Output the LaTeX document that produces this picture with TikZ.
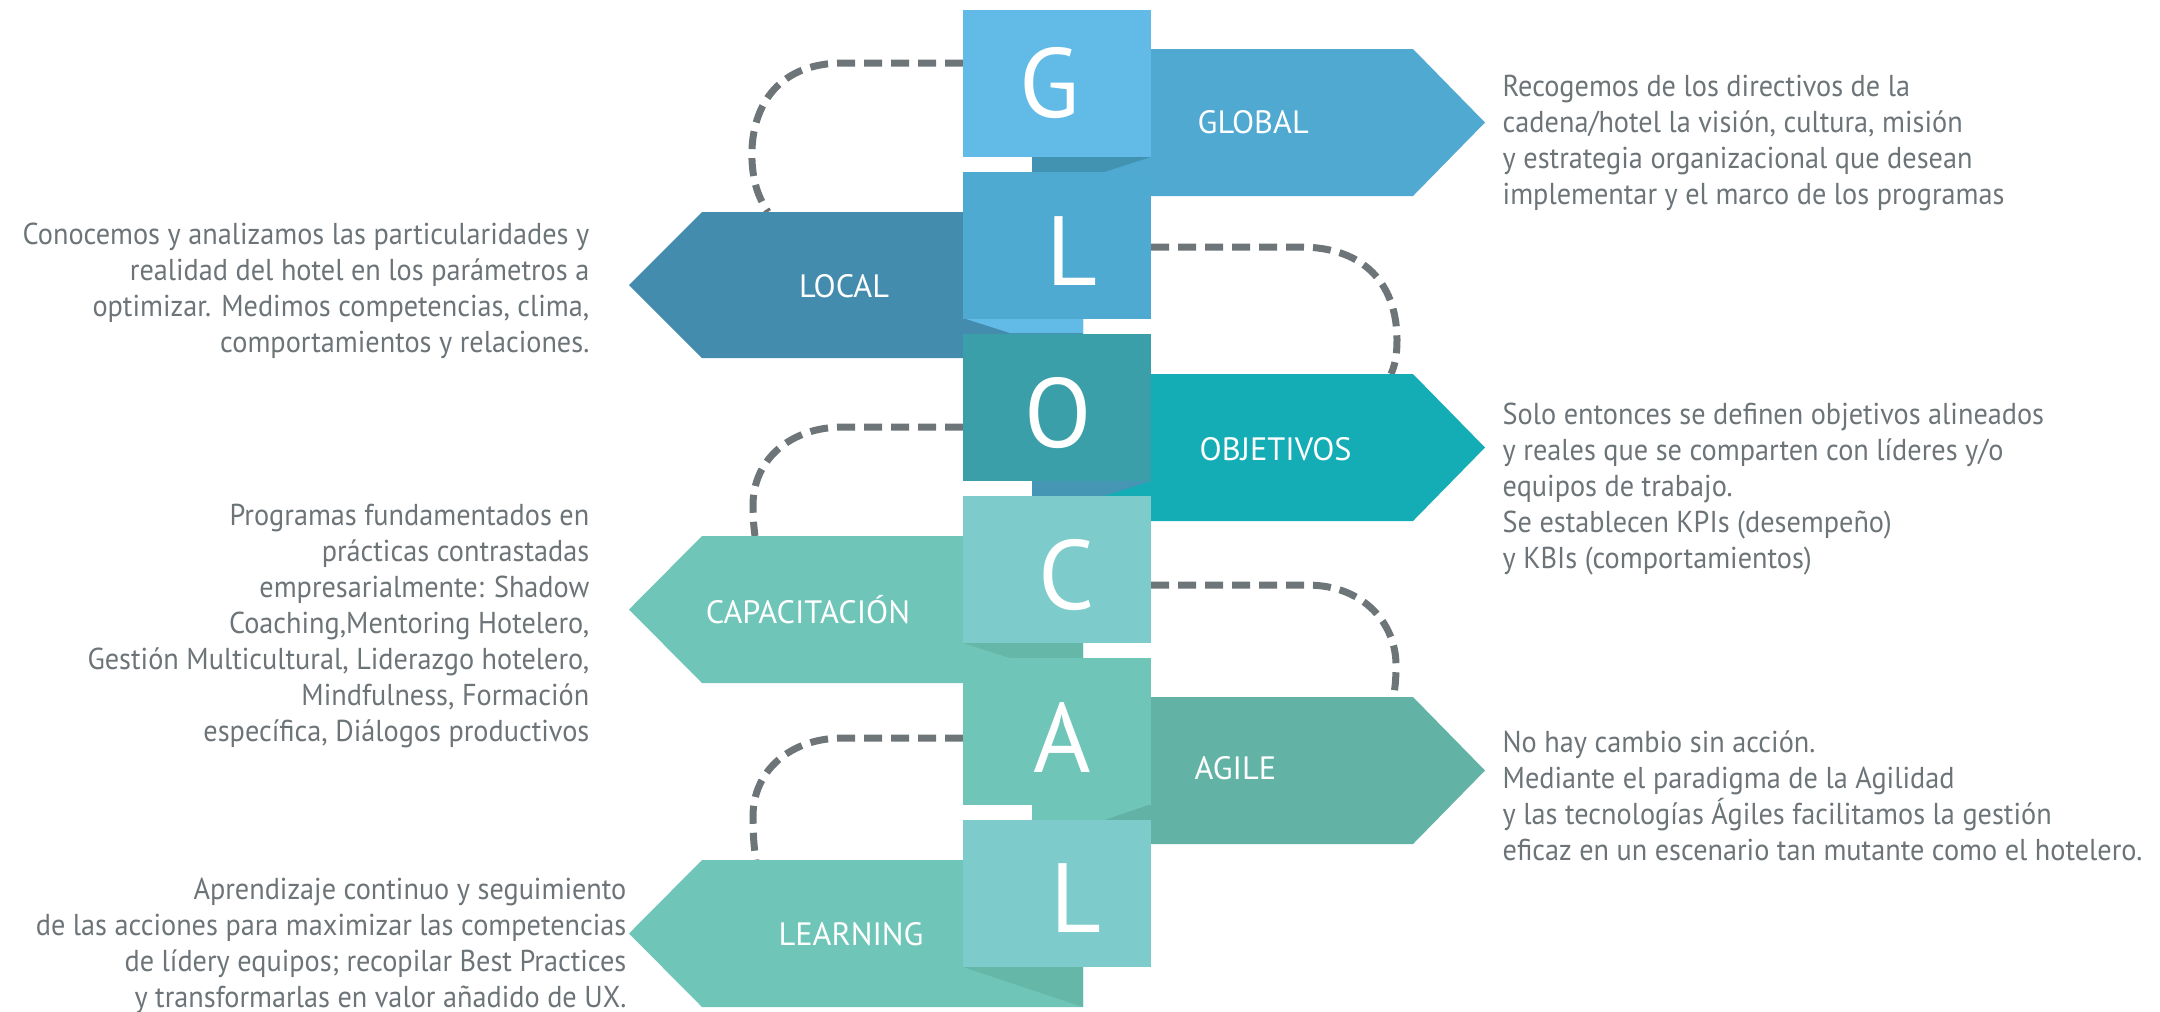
\documentclass[tikz,border=0pt]{standalone}
\usepackage{fontspec}
\setmainfont{PT Sans}
\newfontfamily\descfont{PT Sans}[FakeStretch=0.935]
\usetikzlibrary{calc}

\definecolor{gBox}{HTML}{62BBE6}
\definecolor{gArrow}{HTML}{4FA9D1}
\definecolor{gFold}{HTML}{4293B1}
\definecolor{lBox}{HTML}{4FAAD1}
\definecolor{lArrow}{HTML}{438CAD}
\definecolor{lFold}{HTML}{62BBE6}
\definecolor{oBox}{HTML}{3A9FA9}
\definecolor{oArrow}{HTML}{15ADB5}
\definecolor{oFold}{HTML}{4496B4}
\definecolor{cBox}{HTML}{7DCCCB}
\definecolor{cArrow}{HTML}{6FC6B8}
\definecolor{cFold}{HTML}{65B8A8}
\definecolor{aBox}{HTML}{6FC6B8}
\definecolor{aArrow}{HTML}{62B3A6}
\definecolor{aFold}{HTML}{6FC6B8}
\definecolor{eBox}{HTML}{7DCCCB}
\definecolor{eArrow}{HTML}{6FC6B8}
\definecolor{eFold}{HTML}{65B8A8}
\definecolor{dashgray}{HTML}{6D7578}
\definecolor{txtgray}{HTML}{6D7478}

\begin{document}
\begin{tikzpicture}[x=0.1mm, y=-0.1mm,
        box/.style={minimum width=18.8mm, minimum height=14.7mm, inner sep=0, outer sep=0},
        letter/.style={text=white, inner sep=0, font=\fontsize{28}{28}\selectfont},
        tag/.style={text=white, inner sep=0, font=\fontsize{9.2}{9.2}\selectfont},
        desc/.style={text=txtgray, inner sep=0, font=\descfont\fontsize{8.6}{10.24}\selectfont},
        link/.style={draw=dashgray, line width=0.7mm, dash pattern=on 1.8mm off 0.9mm}]
    \useasboundingbox (0,0) rectangle (2160,1011);

    % where the dashed links end
    \coordinate (localTop) at (768,212);
    \coordinate (objTop) at (1391,374);
    \coordinate (capTop) at (755,536);
    \coordinate (agileTop) at (1393,697);
    \coordinate (learnTop) at (756,860);

    % squares (placed first so the links can start at them)
    \path node [box] (sqG) at (1057,83.5) {}
          node [box] (sqL) at (1057,245.5) {}
          node [box] (sqO) at (1057,407.5) {}
          node [box] (sqC) at (1057,569.5) {}
          node [box] (sqA) at (1057,731.5) {}
          node [box] (sqE) at (1057,893.5) {};

    % dashed links
    \draw [link] ($(sqG.west)+(0,-20.5)$) -- (843,63)
        .. controls (775,63) and (750,110) .. (752,160)
        .. controls (753,185) and (760,200) .. (localTop);
    \draw [link] ($(sqL.east)+(0,1.5)$) -- (1300,247)
        .. controls (1370,247) and (1397,290) .. (1397,340)
        .. controls (1397,355) and (1395,365) .. (objTop);
    \draw [link] ($(sqO.west)+(0,19.5)$) -- (843,427)
        .. controls (790,427) and (753,460) .. (753,505)
        .. controls (753,520) and (754,528) .. (capTop);
    \draw [link] ($(sqC.east)+(0,15.5)$) -- (1307,585)
        .. controls (1365,585) and (1396,625) .. (1396,665)
        .. controls (1396,680) and (1395,690) .. (agileTop);
    \draw [link] ($(sqA.west)+(0,6.5)$) -- (843,738)
        .. controls (790,738) and (753,771) .. (753,816)
        .. controls (753,835) and (754,848) .. (learnTop);

    % ribbons
    \fill [gArrow] (1032,49) -- (1413,49) -- (1485,122.5) -- (1413,196) -- (1032,196) -- cycle;
    \fill [lArrow] (1083,212) -- (702,212) -- (629,285) -- (702,358) -- (1083,358) -- cycle;
    \fill [oArrow] (1032,374) -- (1413,374) -- (1485,447.5) -- (1413,521) -- (1032,521) -- cycle;
    \fill [cArrow] (1083,536) -- (702,536) -- (629,609.5) -- (702,683) -- (1083,683) -- cycle;
    \fill [aArrow] (1032,697) -- (1413,697) -- (1485,770.5) -- (1413,844) -- (1032,844) -- cycle;
    \fill [eArrow] (1083,860) -- (702,860) -- (629,933.5) -- (702,1007) -- (1083,1007) -- cycle;

    % folds under the squares
    \fill [gFold] (1032,157) -- (1151,157) -- (1104,172) -- (1032,172) -- cycle;
    \fill [lFold] (963,318) -- (1083,318) -- (1083,333) -- (1010,333) -- cycle;
    \fill [oFold] (1032,481) -- (1151,481) -- (1104,496) -- (1032,496) -- cycle;
    \fill [cFold] (963,643) -- (1083,643) -- (1083,658) -- (1010,658) -- cycle;
    \fill [aFold] (1032,804) -- (1151,804) -- (1104,820) -- (1032,820) -- cycle;
    \fill [eFold] (963,967) -- (1083,967) -- (1083,1007) -- cycle;

    % squares
    \fill [gBox] (sqG.north west) rectangle (sqG.south east);
    \fill [lBox] (sqL.north west) rectangle (sqL.south east);
    \fill [oBox] (sqO.north west) rectangle (sqO.south east);
    \fill [cBox] (sqC.north west) rectangle (sqC.south east);
    \fill [aBox] (sqA.north west) rectangle (sqA.south east);
    \fill [eBox] (sqE.north west) rectangle (sqE.south east);

    % big letters
    \node [letter] (letG) at (1050,83) {G};
    \node [letter] (letL) at (1072,251) {L};
    \node [letter] (letO) at (1058,413) {O};
    \node [letter] (letC) at (1067,575) {C};
    \node [letter] (letA) at (1062,737) {A};
    \node [letter] (letE) at (1076,898) {L};

    % ribbon labels
    \node [tag, anchor=west] (tagG) at (1197,122) {GLOBAL};
    \node [tag] (tagL) at (844,286) {LOCAL};
    \node [tag, anchor=west] (tagO) at (1199,449) {OBJETIVOS};
    \node [tag] (tagC) at (808,610) {CAPACITACIÓN};
    \node [tag, anchor=west] (tagA) at (1194,768) {AGILE};
    \node [tag] (tagE) at (851,934) {LEARNING};

    % descriptions
    \node [desc, anchor=north west, align=left] (txtG) at (1502,74)
        {Recogemos de los directivos de la\\ cadena/hotel la visión, cultura, misión\\
         y estrategia organizacional que desean\\ implementar y el marco de los programas};
    \node [desc, anchor=north east, align=right] (txtL) at (590,222)
        {Conocemos y analizamos las particularidades y\\ realidad del hotel en los parámetros a\\
         optimizar. Medimos competencias, clima,\\ comportamientos y relaciones.};
    \node [desc, anchor=north west, align=left] (txtO) at (1502,402)
        {Solo entonces se definen objetivos alineados\\ y reales que se comparten con líderes y/o\\
         equipos de trabajo.\\ Se establecen KPIs (desempeño)\\ y KBIs (comportamientos)};
    \node [desc, anchor=north east, align=right] (txtC) at (590,503)
        {Programas fundamentados en\\ prácticas contrastadas\\ empresarialmente: Shadow\\
         Coaching,Mentoring Hotelero,\\ Gestión Multicultural, Liderazgo hotelero,\\
         Mindfulness, Formación\\ específica, Diálogos productivos};
    \node [desc, anchor=north west, align=left] (txtA) at (1502,730)
        {No hay cambio sin acción.\\ Mediante el paradigma de la Agilidad\\
         y las tecnologías Ágiles facilitamos la gestión\\ eficaz en un escenario tan mutante como el hotelero.};
    \node [desc, anchor=north east, align=right] (txtE) at (627,877)
        {Aprendizaje continuo y seguimiento\\ de las acciones para maximizar las competencias\\
         de lídery equipos; recopilar Best Practices\\ y transformarlas en valor añadido de UX.};
\end{tikzpicture}
\end{document}
